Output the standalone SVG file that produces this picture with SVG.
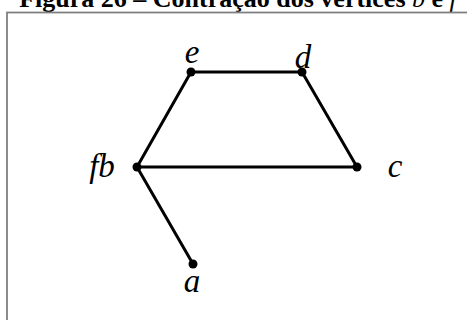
<svg xmlns="http://www.w3.org/2000/svg" width="467" height="320" viewBox="0 0 467 320">
<style>
.edge{stroke:#000;stroke-width:3;fill:none;stroke-linecap:round}
.dot{fill:#000}
.lbl{font-family:"Liberation Serif","DejaVu Serif",serif;font-style:italic;font-size:33px;fill:#000}
.title{font-family:"Liberation Serif",serif;font-weight:bold;font-size:26px;fill:#000}
</style>
<rect x="0" y="0" width="467" height="320" fill="#fff"/>
<text class="title" x="238" y="7" text-anchor="middle">Figura 26 – Contração dos vértices <tspan font-style="italic" font-weight="normal">b</tspan> e <tspan font-style="italic" font-weight="normal">f</tspan></text>
<rect x="7" y="12.5" width="480" height="330" fill="none" stroke="#808080" stroke-width="1.8"/>
<g id="edges">
<line class="edge" x1="191" y1="72" x2="302" y2="72"/>
<line class="edge" x1="191" y1="72" x2="137" y2="167"/>
<line class="edge" x1="302" y1="72" x2="357" y2="167"/>
<line class="edge" x1="137" y1="167" x2="357" y2="167"/>
<line class="edge" x1="137" y1="167" x2="193" y2="264"/>
</g>
<g id="node-e"><circle class="dot" cx="191" cy="72" r="4.5"/><text class="lbl" x="192" y="63" text-anchor="middle">e</text></g>
<g id="node-d"><circle class="dot" cx="302" cy="72" r="4.5"/><text class="lbl" x="303" y="68" text-anchor="middle">d</text></g>
<g id="node-fb"><circle class="dot" cx="137" cy="167" r="4.5"/><text class="lbl" x="102" y="177" text-anchor="middle">fb</text></g>
<g id="node-c"><circle class="dot" cx="357" cy="167" r="4.5"/><text class="lbl" x="395" y="177" text-anchor="middle">c</text></g>
<g id="node-a"><circle class="dot" cx="193" cy="264" r="4.5"/><text class="lbl" x="192" y="292" text-anchor="middle">a</text></g>
</svg>
